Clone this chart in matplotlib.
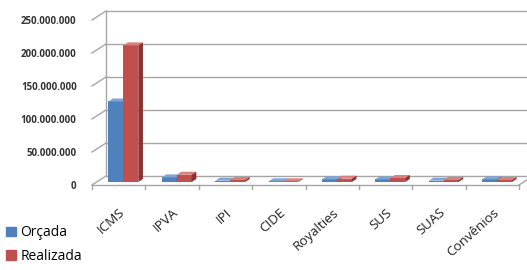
import numpy as np
import matplotlib.pyplot as plt
from matplotlib.patches import Polygon, Patch

plt.rcParams['font.family'] = ['Open Sans', 'DejaVu Sans']

# dados
categorias = ['ICMS', 'IPVA', 'IPI', 'CIDE', 'Royalties', 'SUS', 'SUAS', 'Convênios']
orcada = [122e6, 7e6, 2e6, 1e6, 4e6, 4e6, 2e6, 4e6]
realizada = [207e6, 11e6, 3e6, 1e6, 5e6, 6e6, 3e6, 3e6]
series = ['Orçada', 'Realizada']
yticks = [0, 50e6, 100e6, 150e6, 200e6, 250e6]
ytick_labels = ['0', '50.000.000', '100.000.000', '150.000.000', '200.000.000', '250.000.000']

# cores estilo Excel (frente, topo, lado)
cores = {
    'Orçada': ('#4F81BD', '#7FA4D6', '#365F91'),
    'Realizada': ('#C0504D', '#D9817E', '#8C3230'),
}
grid_cor = '#A6A6A6'

fig = plt.figure(figsize=(5.27, 2.70), dpi=100)
ax = fig.add_axes([92 / 527, 85 / 270, 427 / 527, 165 / 270])
ax.set_xlim(0, len(categorias))
ax.set_ylim(0, 250e6)
for s in ax.spines.values():
    s.set_visible(False)

# profundidade do "3D" (em unidades de dados)
dx = 14 / 53.4
dy = 9 / 165 * 250e6
n = len(categorias)

# parede do fundo e parede lateral
for v in yticks:
    ax.plot([dx, n + dx], [v + dy, v + dy], color=grid_cor, lw=1, clip_on=False, zorder=1)
    ax.plot([0, dx], [v, v + dy], color=grid_cor, lw=1, clip_on=False, zorder=1)
ax.plot([dx, dx], [dy, 250e6 + dy], color=grid_cor, lw=1, clip_on=False, zorder=1)
# piso
ax.plot([0, n], [0, 0], color=grid_cor, lw=1, clip_on=False, zorder=1)
ax.plot([n, n + dx], [0, dy], color=grid_cor, lw=1, clip_on=False, zorder=1)
for i in range(n + 1):
    ax.plot([i, i], [0, -6e6], color=grid_cor, lw=1, clip_on=False, zorder=1)

# barras
x = np.arange(n) + 0.5
w = 0.28
ox, oy = dx / 3, dy / 3
for k, (nome, vals) in enumerate(zip(series, [orcada, realizada])):
    frente, topo, lado = cores[nome]
    xl = x - w + k * w + ox
    ax.bar(xl, vals, width=w, bottom=oy, align='edge', color=frente, zorder=3, clip_on=False)
    for xi, v in zip(xl, vals):
        t = v + oy
        ax.add_patch(Polygon([(xi, t), (xi + w, t), (xi + w + ox, t + oy), (xi + ox, t + oy)],
                             closed=True, facecolor=topo, edgecolor='none', zorder=3, clip_on=False))
        ax.add_patch(Polygon([(xi + w, oy), (xi + w, t), (xi + w + ox, t + oy), (xi + w + ox, oy + oy)],
                             closed=True, facecolor=lado, edgecolor='none', zorder=3, clip_on=False))

ax.set_yticks(yticks, ytick_labels, fontsize=7, fontweight='bold', color='#333333')
ax.set_xticks(x, categorias, rotation=42, ha='right', rotation_mode='anchor',
              fontsize=9.6, color='#222222')
ax.tick_params(axis='y', length=0, pad=11)
ax.tick_params(axis='x', length=0, pad=15)

handles = [Patch(color=cores[s][0]) for s in series]
fig.legend(handles, series, loc='upper left', bbox_to_anchor=(0.012, 0.165), frameon=False,
           fontsize=10, handlelength=0.7, handleheight=0.7, handletextpad=0.3,
           labelspacing=0.6, borderaxespad=0, borderpad=0)

fig.savefig('out.png', dpi=100)
